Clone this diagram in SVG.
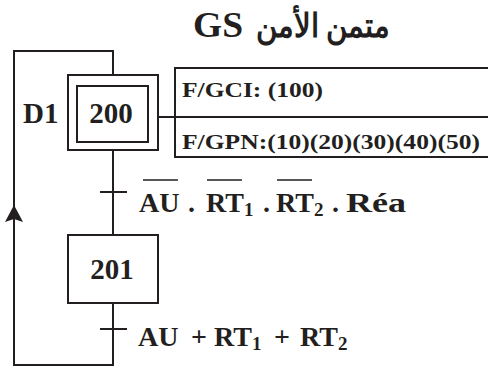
<svg xmlns="http://www.w3.org/2000/svg" width="488" height="368" viewBox="0 0 488 368">
<style>
.ln{fill:none;stroke:#231f20;stroke-width:2}
.t{font-family:"Liberation Serif","Times New Roman","DejaVu Serif",serif;font-weight:bold;fill:#231f20}
.big{font-size:29px}
.tr{font-size:28px}
.sub{font-size:19px}
.act{font-size:22px}
.ov{stroke:#231f20;stroke-width:1.6}
</style>
<rect width="488" height="368" fill="#fff"/>
<g id="title">
<text class="t" x="193" y="37" font-size="36" textLength="50" lengthAdjust="spacingAndGlyphs">GS</text>
<text class="t" x="390" y="37" font-size="33" direction="rtl" text-anchor="start" font-family="'DejaVu Sans','Noto Sans',sans-serif" textLength="134" lengthAdjust="spacingAndGlyphs">متمن الأمن</text>
</g>
<g id="connectors">
<path class="ln" d="M113,75 V51 H14 V365 H113 V303"/>
<path d="M14,205 L5,222 L14,219 L23,222 Z" fill="#231f20"/>
<line class="ln" x1="113" y1="150" x2="113" y2="235"/>
<line class="ln" x1="100" y1="192" x2="127" y2="192"/>
<line class="ln" x1="100" y1="329" x2="127" y2="329"/>
<line class="ln" x1="158" y1="117" x2="175" y2="117"/>
</g>
<g id="step200">
<rect class="ln" x="68" y="75" width="90" height="75"/>
<rect class="ln" x="77" y="86" width="71" height="56"/>
<text class="t big" x="111" y="123" text-anchor="middle">200</text>
<text class="t big" x="23" y="123">D1</text>
</g>
<g id="actions">
<rect class="ln" x="175" y="68" width="320" height="89"/>
<line class="ln" x1="175" y1="117" x2="490" y2="117"/>
<text class="t act" x="182" y="97" textLength="141" lengthAdjust="spacingAndGlyphs">F/GCI: (100)</text>
<text class="t act" x="182" y="149" textLength="298" lengthAdjust="spacingAndGlyphs">F/GPN:(10)(20)(30)(40)(50)</text>
</g>
<g id="transition1">
<text class="t tr" y="212"><tspan x="139">AU</tspan><tspan x="188">.</tspan><tspan x="206">RT</tspan><tspan class="sub" dy="4">1</tspan><tspan x="263" dy="-4">.</tspan><tspan x="276">RT</tspan><tspan class="sub" dy="4">2</tspan><tspan x="332" dy="-4">.</tspan></text>
<text class="t tr" x="346" y="212" textLength="60" lengthAdjust="spacingAndGlyphs">Réa</text>
<line class="ov" x1="143" y1="180" x2="178" y2="180"/>
<line class="ov" x1="207" y1="180" x2="242" y2="180"/>
<line class="ov" x1="277" y1="180" x2="312" y2="180"/>
</g>
<g id="step201">
<rect class="ln" x="68" y="235" width="90" height="68"/>
<text class="t big" x="112" y="279" text-anchor="middle">201</text>
</g>
<g id="transition2">
<text class="t tr" y="346"><tspan x="138">AU</tspan><tspan x="191">+</tspan><tspan x="214">RT</tspan><tspan class="sub" dy="4">1</tspan><tspan x="274" dy="-4">+</tspan><tspan x="300">RT</tspan><tspan class="sub" dy="4">2</tspan></text>
</g>
</svg>
